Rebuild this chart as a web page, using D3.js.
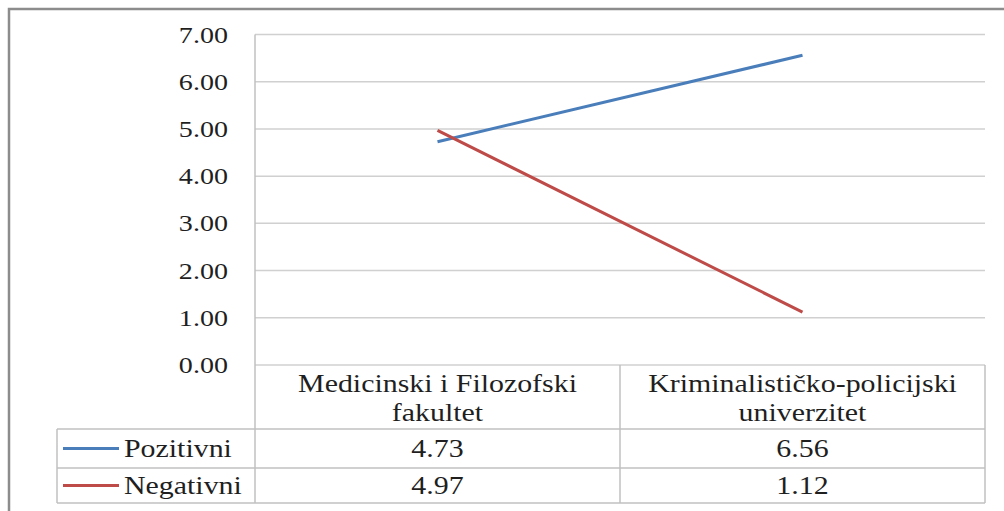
<!DOCTYPE html>
<html>
<head>
<meta charset="utf-8">
<script src="https://cdn.jsdelivr.net/npm/d3@7"></script>
<style>
  body { margin: 0; background: #fff; }
</style>
</head>
<body>
<svg width="1004" height="511"></svg>
<script>
/* ===============================
   Data
   =============================== */
let categories = [["Medicinski i Filozofski", "fakultet"], ["Kriminalističko-policijski", "univerzitet"]];
let seriesNames = ["Pozitivni", "Negativni"];
let pozitivni = [4.73, 6.56];
let negativni = [4.97, 1.12];
let yTicks = [0, 1, 2, 3, 4, 5, 6, 7];
let colors = ["#4a7ebb", "#be4b48"];

let series = [pozitivni, negativni];

/* ===============================
   Layout
   =============================== */
let svg = d3.select("svg");
let plotLeft = 255, plotRight = 985, plotTop = 34.5, plotBottom = 365;
let tableLeft = 57, headBottom = 429, rowBottoms = [468, 503];
let fontSize = 26;
let stretch = 1.15;   // text in the picture is a bit wider than tall

let x = d3.scaleBand()
    .domain(d3.range(categories.length))
    .range([plotLeft, plotRight]);

let y = d3.scaleLinear()
    .domain([0, 7])
    .range([plotBottom, plotTop]);

// text that is stretched sideways around its own anchor
function label(parent, tx, ty, str, anchor, size, sx) {
    return parent.append("text")
        .attr("transform", "translate(" + tx + "," + ty + ") scale(" + sx + ",1)")
        .attr("font-family", "Liberation Serif")
        .attr("text-anchor", anchor)
        .attr("font-size", size)
        .attr("fill", "#1f1f1f")
        .text(str);
}

/* ===============================
   Outer border
   =============================== */
svg.append("path")
    .attr("d", "M9,511 V9 H1004")
    .attr("fill", "none")
    .attr("stroke", "#8c8c8c")
    .attr("stroke-width", 2.5);

/* ===============================
   Gridlines + y labels
   =============================== */
svg.append("g")
    .selectAll("line")
    .data(yTicks)
    .join("line")
    .attr("x1", plotLeft)
    .attr("x2", plotRight)
    .attr("y1", d => y(d))
    .attr("y2", d => y(d))
    .attr("stroke", "#d0d0d0")
    .attr("stroke-width", 1.5);

let yLab = svg.append("g");
yTicks.forEach(d => {
    label(yLab, 228, y(d) + 8, d3.format(".2f")(d), "end", 24, 1.17);
});

/* ===============================
   Data table
   =============================== */
let tbl = svg.append("g").attr("stroke", "#c0c0c0").attr("stroke-width", 1.5);

// vertical lines
tbl.append("line").attr("x1", plotLeft).attr("x2", plotLeft).attr("y1", plotTop).attr("y2", rowBottoms[1]);
tbl.append("line").attr("x1", plotRight).attr("x2", plotRight).attr("y1", plotBottom).attr("y2", rowBottoms[1]);
tbl.append("line").attr("x1", tableLeft).attr("x2", tableLeft).attr("y1", headBottom).attr("y2", rowBottoms[1]);
tbl.selectAll(".vdiv")
    .data(d3.range(1, categories.length))
    .join("line")
    .attr("x1", d => x(d)).attr("x2", d => x(d))
    .attr("y1", plotBottom).attr("y2", rowBottoms[1]);

// horizontal lines
tbl.append("line").attr("x1", tableLeft).attr("x2", plotRight).attr("y1", headBottom).attr("y2", headBottom);
tbl.selectAll(".hrow")
    .data(rowBottoms)
    .join("line")
    .attr("x1", tableLeft).attr("x2", plotRight)
    .attr("y1", d => d).attr("y2", d => d);

// category headers
let heads = svg.append("g");
categories.forEach((lines, i) => {
    lines.forEach((t, j) => {
        label(heads, x(i) + x.bandwidth() / 2, 392 + j * 29, t, "middle", fontSize, stretch);
    });
});

// rows
let rowTops = [headBottom, rowBottoms[0]];
let rows = svg.append("g");
series.forEach((vals, s) => {
    let base = (rowTops[s] + rowBottoms[s]) / 2 + 8.5;
    rows.append("line")
        .attr("x1", 63).attr("x2", 119)
        .attr("y1", (rowTops[s] + rowBottoms[s]) / 2)
        .attr("y2", (rowTops[s] + rowBottoms[s]) / 2)
        .attr("stroke", colors[s])
        .attr("stroke-width", 3);
    label(rows, 124, base, seriesNames[s], "start", fontSize, stretch);
    vals.forEach((v, i) => {
        label(rows, x(i) + x.bandwidth() / 2, base, d3.format(".2f")(v), "middle", fontSize, stretch);
    });
});

/* ===============================
   Lines
   =============================== */
let line = d3.line()
    .x((d, i) => x(i) + x.bandwidth() / 2)
    .y(d => y(d));

series.forEach((vals, s) => {
    svg.append("path")
        .datum(vals)
        .attr("d", line)
        .attr("fill", "none")
        .attr("stroke", colors[s])
        .attr("stroke-width", 3);
});
</script>
</body>
</html>
